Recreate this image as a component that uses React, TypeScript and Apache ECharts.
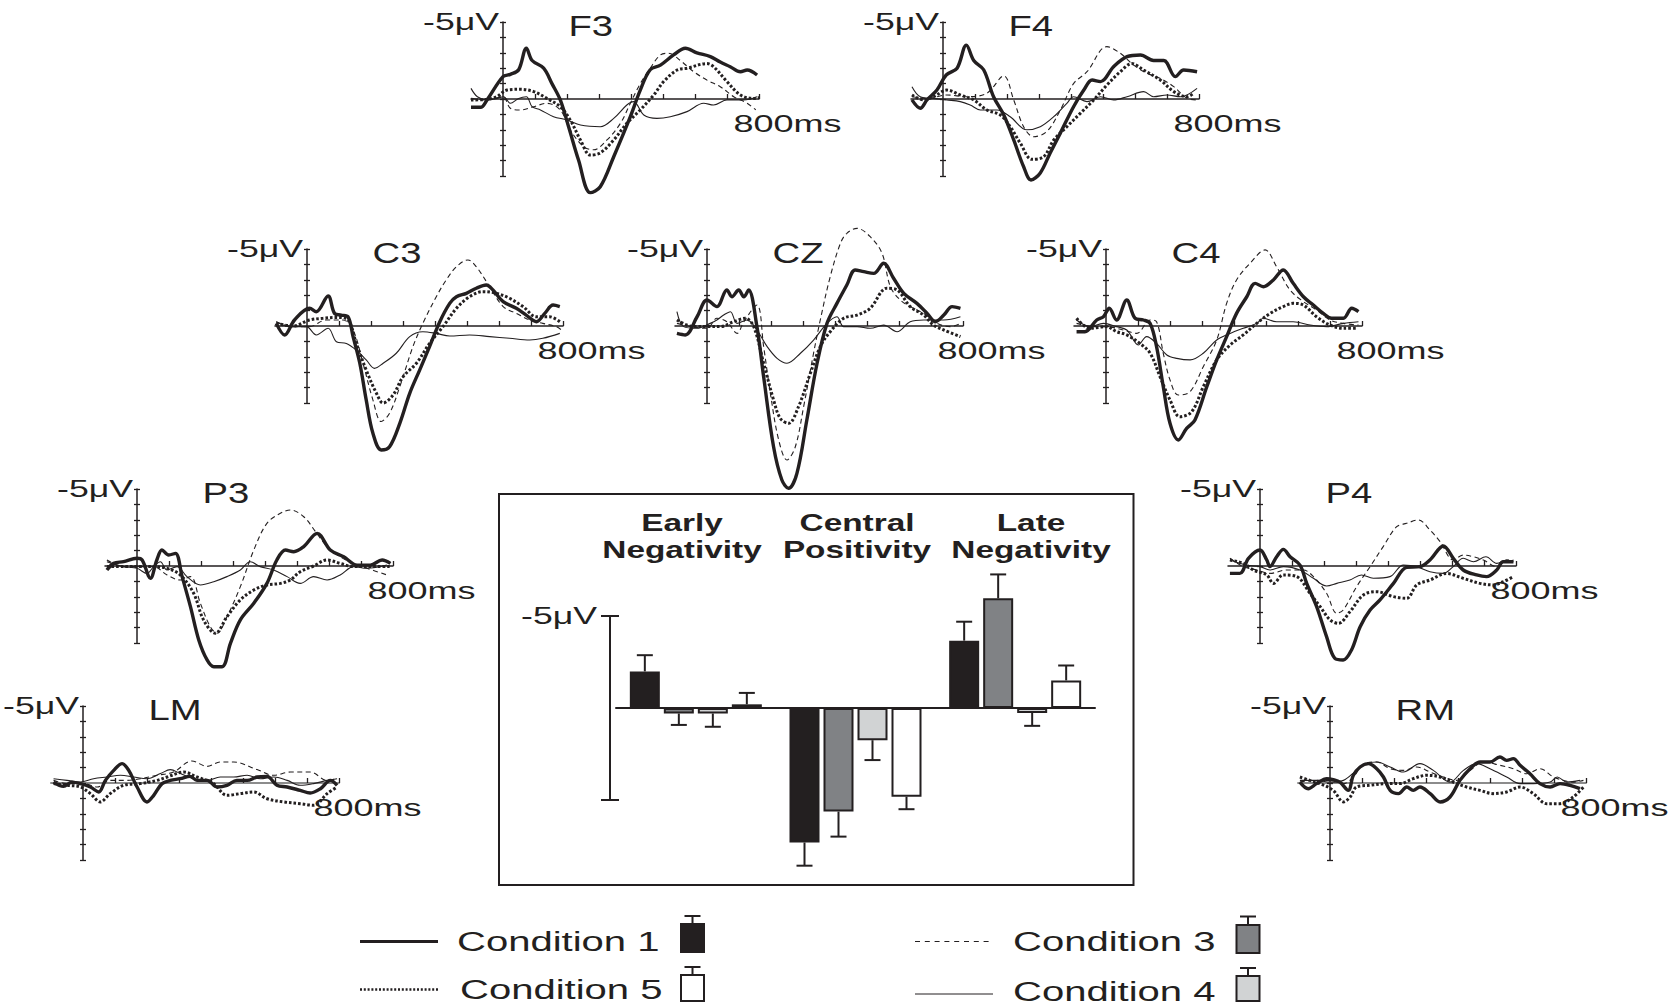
import React, { useEffect, useRef } from 'react';
import * as echarts from 'echarts';

const FONT = '"Liberation Sans", Arial, Helvetica, sans-serif';
const INK = '#231f20';

// ---- ERP waveforms: [time ms, amplitude µV] (negative plotted up) ----
const f3Cond1 = [[-100,0.54],[-70,0.54],[-50,0.06],[0,-1.45],[23,-1.6],[49,-1.9],[73,-3.3],[91,-2.5],[127,-2.0],[153,-1.0],[179,0.06],[205,1.8],[236,3.96],[273,6.08],[304,5.7],[346,3.75],[398,1.15],[429,-0.58],[460,-1.9],[492,-2.2],[533,-2.86],[570,-3.3],[606,-3.0],[648,-2.75],[679,-2.4],[710,-2.1],[742,-1.77],[763,-1.88],[794,-1.56]];
const f3Cond3 = [[-100,-0.04],[-50,0.06],[0,-0.15],[23,0.6],[54,0.71],[96,0.5],[137,0.28],[179,0.71],[210,2.0],[252,3.1],[283,3.3],[325,2.66],[367,1.58],[398,0.28],[429,-1.0],[460,-2.0],[492,-2.86],[518,-2.97],[554,-2.5],[596,-1.77],[637,-1.23],[679,-0.8],[721,-0.15],[763,0.28],[790,0.71]];
const f3Cond4 = [[-100,-0.69],[-80,-0.15],[-50,0.06],[-19,-0.04],[2,-0.15],[23,0.28],[49,-0.04],[73,-0.15],[91,0.5],[117,0.71],[158,1.15],[200,1.36],[242,1.69],[304,1.8],[346,1.26],[387,0.39],[408,0.17],[440,1.04],[481,1.26],[523,1.15],[575,0.82],[627,0.28],[658,0.39],[700,0.06],[752,0.06],[794,-0.15]];
const f3Cond5 = [[-100,0.06],[-50,0.02],[-19,-0.15],[12,-0.58],[54,-0.63],[96,-0.48],[137,-0.04],[179,0.5],[210,1.36],[242,2.66],[273,3.64],[304,3.5],[346,2.66],[387,1.58],[429,0.71],[471,-0.26],[502,-1.13],[544,-1.88],[575,-2.0],[637,-2.3],[658,-2.1],[700,-1.13],[742,-0.26],[783,-0.04],[800,-0.1]];

const f4Cond1 = [[-97,0.06],[-71,0.6],[-50,0.06],[-19,-0.58],[10,-1.56],[44,-2.0],[73,-3.5],[96,-2.5],[127,-1.9],[158,-0.15],[190,1.04],[221,2.66],[252,4.4],[275,5.26],[304,4.8],[335,3.5],[367,2.2],[408,0.5],[440,-0.58],[466,-1.23],[492,-1.13],[533,-2.1],[575,-2.75],[617,-2.86],[658,-2.5],[690,-2.5],[726,-1.45],[752,-1.88],[794,-1.77]];
const f4Cond3 = [[-97,-0.15],[-50,-0.04],[12,-0.26],[75,-0.15],[137,-0.37],[190,-1.5],[221,0.06],[252,1.8],[283,2.45],[325,2.1],[367,0.71],[408,-1.0],[450,-1.77],[512,-3.4],[554,-2.97],[596,-2.2],[637,-1.67],[679,-1.34],[721,-0.8],[763,-0.04],[794,0.06]];
const f4Cond4 = [[-97,-0.8],[-71,-0.15],[-29,-0.04],[12,0.06],[54,0.17],[85,0.39],[117,0.71],[169,0.71],[210,1.15],[262,2.0],[304,1.8],[346,1.15],[387,0.28],[408,-0.15],[450,0.17],[492,-0.15],[533,0.06],[575,-0.15],[627,-0.48],[658,-0.15],[700,-0.26],[742,-0.15],[794,-0.69]];
const f4Cond5 = [[-97,-0.26],[-60,0.06],[-29,-0.15],[12,-0.58],[54,-0.26],[96,0.06],[137,0.71],[179,1.04],[210,1.8],[242,2.88],[278,3.92],[315,3.74],[346,2.66],[387,1.8],[429,0.93],[471,0.06],[512,-0.9],[554,-1.77],[590,-2.3],[627,-1.88],[679,-1.23],[721,-0.48],[763,-0.15],[783,-0.37]];

const c3Cond1 = [[-96,-0.17],[-70,0.58],[-39,-0.39],[8,-1.15],[29,-0.93],[66,-1.95],[86,-0.82],[107,-0.71],[128,-0.6],[144,0.69],[165,2.42],[185,4.8],[206,6.97],[232,8.05],[258,7.84],[290,6.32],[321,4.37],[352,2.86],[383,1.34],[415,-0.28],[446,-1.47],[467,-1.9],[498,-2.12],[529,-2.45],[560,-2.66],[581,-2.34],[613,-1.58],[654,-1.15],[685,-0.71],[717,-0.28],[743,-0.82],[769,-1.36],[790,-1.26]];
const c3Cond3 = [[-96,-0.28],[-44,0.04],[8,0.04],[60,-0.39],[112,-0.39],[144,0.26],[175,2.42],[206,4.8],[232,6.2],[258,5.67],[290,3.94],[331,1.34],[362,-0.17],[404,-1.9],[435,-2.99],[467,-3.85],[503,-4.29],[529,-3.85],[571,-2.55],[613,-1.26],[654,-0.82],[696,-0.39],[737,-0.17],[779,0.04],[795,0.26]];
const c3Cond4 = [[-96,-0.28],[-54,0.04],[-2,0.04],[29,0.58],[66,0.15],[92,1.02],[123,1.13],[154,1.56],[185,2.2],[211,2.75],[238,2.42],[279,1.77],[321,0.69],[362,0.37],[404,0.48],[446,0.65],[508,0.58],[571,0.69],[633,0.8],[696,0.91],[737,0.8],[790,0.48]];
const c3Cond5 = [[-96,-0.17],[-44,0],[8,-0.39],[50,-0.5],[92,-0.56],[128,-0.39],[154,1.13],[185,2.86],[217,4.37],[238,5.0],[269,4.48],[300,3.3],[342,2.42],[383,1.13],[425,0.04],[467,-1.15],[508,-1.9],[550,-2.23],[592,-2.12],[633,-1.8],[675,-1.26],[717,-0.6],[758,-0.6],[790,-0.28]];

const czCond1 = [[-94,0.48],[-68,0.58],[-31,-0.6],[0,-1.69],[31,-1.26],[62,-2.34],[78,-1.9],[99,-2.34],[115,-1.9],[130,-2.34],[156,0.04],[177,3.3],[208,7.84],[234,10.0],[255,10.54],[281,9.57],[312,6.1],[344,2.42],[375,-0.17],[406,-1.47],[437,-2.66],[463,-3.64],[490,-3.53],[521,-3.42],[552,-4.07],[583,-3.1],[615,-2.12],[656,-1.47],[688,-0.82],[714,-0.28],[740,-0.71],[766,-1.26],[792,-1.15]];
const czCond3 = [[-94,-0.17],[-52,0.04],[0,0.15],[31,-0.5],[62,-0.28],[94,0.48],[115,-0.28],[156,-1.36],[177,1.34],[198,4.37],[224,7.4],[250,8.7],[276,7.84],[302,5.24],[333,1.77],[354,-0.39],[385,-3.2],[417,-5.37],[437,-6.02],[469,-6.34],[510,-5.8],[547,-4.72],[573,-2.55],[604,-1.69],[635,-1.26],[677,-0.82],[719,-0.17],[760,0.04],[792,-0.17]];
const czCond4 = [[-94,-0.93],[-73,0.04],[-31,0.15],[10,-0.17],[31,-0.39],[52,-0.71],[73,-0.93],[94,-0.17],[125,-0.39],[156,0.26],[188,1.34],[219,2.1],[250,2.42],[292,1.77],[333,0.91],[375,-0.17],[406,-0.6],[427,0.04],[469,0.04],[510,0.15],[552,-0.06],[594,0.37],[635,-0.28],[677,-0.39],[740,-0.39],[792,-0.6]];
const czCond5 = [[-94,-0.39],[-42,0.04],[0,0.04],[42,0.04],[83,-0.28],[120,-0.5],[146,0.04],[177,2.42],[208,4.8],[229,6.0],[255,6.32],[286,5.24],[323,3.07],[354,1.34],[385,0.37],[427,-0.5],[469,-0.71],[510,-1.15],[562,-2.45],[594,-2.34],[635,-1.26],[677,-0.71],[708,-0.06],[740,0.26],[792,0.69]];

const c4Cond1 = [[-92,0.37],[-66,0.37],[-29,-0.39],[-8,-0.6],[10,-1.15],[33,-0.39],[65,-1.69],[91,-0.5],[117,-0.39],[138,-0.17],[158,1.34],[179,3.94],[200,6.32],[226,7.4],[252,6.65],[278,6.1],[315,3.94],[346,2.2],[377,0.69],[408,-0.82],[440,-1.9],[466,-2.77],[492,-2.55],[523,-2.99],[554,-3.64],[585,-2.77],[617,-1.9],[648,-1.36],[679,-0.82],[705,-0.5],[742,-0.5],[768,-1.15],[789,-0.93]];
const c4Cond3 = [[-92,-0.17],[-40,0.04],[2,0.04],[54,0.26],[96,0.48],[138,-0.39],[158,-0.28],[179,1.77],[200,3.5],[226,4.48],[263,4.26],[304,2.64],[346,0.91],[377,-1.47],[408,-2.99],[450,-4.07],[497,-4.94],[533,-3.85],[575,-2.34],[617,-1.58],[658,-1.04],[700,-0.39],[742,-0.17],[789,-0.06]];
const c4Cond4 = [[-92,-0.39],[-50,0.04],[-8,-0.17],[33,0.04],[65,0.26],[101,1.23],[127,0.69],[158,1.13],[190,1.88],[221,2.1],[263,2.2],[304,1.77],[346,0.91],[388,0.48],[429,0.15],[471,-0.17],[492,-0.5],[533,-0.28],[585,-0.28],[638,-0.06],[690,0.04],[742,-0.17],[789,-0.28]];
const c4Cond5 = [[-92,-0.5],[-50,0.15],[2,0.04],[33,0.37],[65,0.58],[106,1.13],[138,1.77],[169,3.3],[200,4.8],[231,5.89],[268,5.56],[304,3.94],[346,2.2],[388,1.23],[429,0.58],[471,-0.17],[513,-0.82],[554,-1.26],[585,-1.47],[617,-1.36],[658,-0.6],[700,-0.06],[742,0.15],[783,0.15]];

const p3Cond1 = [[-94,0.26],[-73,-0.17],[-42,-0.28],[0,-0.5],[16,-0.39],[42,0.8],[62,-0.39],[78,-1.04],[99,-0.71],[120,-0.82],[141,0.69],[167,2.64],[193,4.8],[219,6.1],[240,6.54],[266,6.54],[292,5.02],[323,3.5],[365,2.42],[406,1.13],[437,-0.39],[464,-1.04],[490,-0.93],[521,-1.26],[563,-2.12],[604,-1.04],[646,-0.6],[688,-0.06],[729,-0.06],[766,-0.39],[792,-0.17]];
const p3Cond3 = [[-94,-0.39],[-42,0.04],[10,0.04],[52,0.04],[94,0.58],[135,0.91],[167,0.69],[198,2.42],[229,3.94],[250,4.37],[281,3.3],[323,1.34],[365,-1.04],[406,-2.77],[448,-3.42],[479,-3.64],[521,-3.2],[558,-2.23],[594,-1.26],[635,-0.6],[677,-0.17],[719,0.15],[781,0.58]];
const p3Cond4 = [[-94,-0.28],[-42,0.04],[0,0.15],[31,0.48],[52,0.04],[73,-0.28],[94,0.26],[125,0.04],[156,0.69],[198,1.23],[240,1.02],[281,0.69],[323,0.26],[354,-0.28],[385,0.04],[427,0.26],[469,0.69],[510,1.13],[552,0.69],[594,0.91],[635,0.58],[677,0.04],[719,0.15],[781,-0.06]];
const p3Cond5 = [[-94,0.04],[-42,0.04],[10,0.04],[52,0.04],[94,0.15],[135,0.58],[177,1.77],[208,3.5],[245,4.37],[281,3.3],[323,2.2],[365,1.56],[406,1.23],[448,1.13],[479,0.91],[510,0.37],[552,0],[594,-0.39],[635,-0.17],[677,0.04],[719,0.04],[792,0.04]];

const p4Cond1 = [[-94,0.48],[-63,0.48],[-36,-0.5],[0,-1.04],[21,-0.39],[31,0.04],[52,-0.6],[73,-1.08],[94,-0.6],[125,-0.06],[146,1.13],[177,2.64],[208,4.59],[234,6.0],[260,6.1],[286,5.45],[313,3.94],[344,2.86],[375,2.2],[417,1.13],[458,0.09],[500,0.04],[531,-0.39],[573,-1.3],[604,-0.5],[635,0.26],[677,0.58],[708,0.69],[740,0.26],[760,-0.28],[792,-0.28]];
const p4Cond3 = [[-94,-0.5],[-52,0.04],[-10,0.26],[31,0.48],[83,0.26],[135,0.26],[167,0.69],[208,1.77],[240,3.07],[260,2.86],[302,1.34],[344,0.04],[385,-1.26],[427,-2.55],[458,-2.77],[495,-2.99],[531,-2.34],[563,-1.58],[604,-0.39],[635,-0.71],[667,-0.6],[698,-0.39],[740,0.04],[771,-0.39],[792,-0.39]];
const p4Cond4 = [[-94,-0.39],[-42,-0.06],[0,0.04],[31,0.26],[73,0.04],[125,0.26],[167,0.8],[208,1.3],[240,1.13],[281,0.91],[317,0.58],[354,0.8],[406,0.69],[448,-0.06],[490,0.04],[531,0.37],[573,0.48],[604,0.04],[635,-0.5],[667,-0.28],[706,-0.6],[740,-0.17],[771,-0.39],[792,-0.28]];
const p4Cond5 = [[-94,-0.39],[-52,-0.17],[-21,0.26],[21,0.58],[42,1.13],[73,0.58],[115,0.69],[156,1.77],[188,2.64],[219,3.5],[245,3.72],[281,2.97],[323,1.88],[365,1.67],[417,1.99],[458,2.1],[490,1.23],[531,0.91],[583,0.48],[635,0.8],[688,1.13],[729,1.23],[760,1.02],[792,0.69]];

const lmCond1 = [[-92,-0.06],[-61,0.22],[-35,-0.06],[-8,0.04],[23,0.26],[49,0.58],[70,-0.17],[96,-0.82],[122,-1.26],[143,-0.82],[169,0.26],[200,1.23],[221,0.8],[247,0.04],[273,-0.17],[304,-0.28],[335,-0.43],[356,-0.17],[388,-0.17],[419,0.26],[450,0.15],[481,-0.17],[513,-0.17],[544,-0.39],[575,-0.43],[606,0.15],[638,0.26],[679,0.48],[710,0.65],[742,0.37],[773,-0.17],[794,0.15]];
const lmCond3 = [[-92,-0.17],[-50,0.04],[2,0.04],[44,0.26],[85,-0.17],[138,-0.17],[179,-0.28],[231,-0.5],[283,-0.71],[340,-1.43],[388,-1.08],[429,-1.36],[471,-1.36],[544,-0.87],[596,-0.5],[648,-0.71],[710,-0.71],[763,-0.17],[794,-0.28]];
const lmCond4 = [[-92,-0.28],[-50,-0.17],[-8,-0.06],[33,-0.28],[75,-0.39],[117,-0.5],[158,-0.39],[200,-0.28],[242,-0.61],[273,-0.87],[304,-0.61],[346,-0.28],[388,-0.17],[429,-0.39],[471,-0.39],[513,-0.5],[554,-0.28],[596,-0.39],[638,-0.17],[679,0.15],[721,0.04],[763,-0.17],[794,-0.28]];
const lmCond5 = [[-92,0.04],[-50,0.15],[-8,0.26],[23,0.69],[54,1.23],[85,0.69],[127,0.15],[179,0.04],[231,-0.17],[263,-0.39],[315,-0.71],[356,-0.39],[408,0.04],[450,0.8],[492,0.69],[533,0.58],[575,1.02],[627,1.23],[679,1.34],[721,1.45],[763,0.69],[794,0.26]];

const rmCond1 = [[-94,-0.06],[-68,0.37],[-42,0.04],[-10,-0.28],[10,-0.22],[31,-0.06],[57,0.48],[73,-0.5],[94,-1.04],[120,-1.26],[146,-0.93],[167,-0.39],[188,0.48],[214,0.69],[240,0.26],[260,0.48],[281,0.26],[313,0.69],[344,1.23],[375,0.91],[406,-0.17],[438,-0.93],[469,-1.36],[500,-1.36],[531,-1.69],[552,-1.47],[573,-1.58],[594,-1.15],[625,-0.6],[656,0.04],[688,0.26],[719,0.04],[750,0.15],[781,0.37]];
const rmCond3 = [[-94,-0.06],[-42,-0.17],[0,-0.17],[42,0.04],[73,-0.39],[104,-1.21],[146,-1.36],[188,-0.93],[229,-0.82],[271,-1.04],[313,-0.71],[354,-0.39],[396,-0.17],[438,-0.82],[479,-1.36],[531,-1.15],[573,-0.93],[615,-0.6],[656,-0.93],[698,-0.39],[729,-0.17],[760,-0.06],[792,-0.17]];
const rmCond4 = [[-94,-0.17],[-42,-0.17],[0,-0.06],[42,-0.17],[83,-0.82],[115,-1.26],[146,-1.36],[188,-1.04],[229,-0.71],[281,-1.26],[323,-0.82],[375,-0.06],[417,-0.82],[458,-1.26],[500,-0.93],[552,-0.39],[594,0.04],[635,0.04],[688,-0.06],[710,-0.39],[740,-0.06],[781,-0.17]];
const rmCond5 = [[-94,-0.39],[-63,-0.17],[-31,0.04],[10,0.48],[42,1.23],[63,0.91],[83,0.26],[125,0.15],[177,0.04],[219,0.04],[260,-0.28],[302,-0.5],[344,-0.39],[385,-0.06],[427,0.26],[469,0.48],[510,0.69],[552,0.58],[594,0.26],[635,0.69],[677,1.34],[719,1.34],[760,0.91],[792,0.26]];

// ---- Bar chart: mean amplitude (µV) and error per component ----
const barGroups = ['Early Negativity', 'Central Positivity', 'Late Negativity'];
const barCond1 = [-1.99, 7.31, -3.66];
const errCond1 = [0.88, 1.26, 1.03];
const barCond3 = [0.3, 5.63, -5.96];
const errCond3 = [0.62, 1.36, 1.3];
const barCond4 = [0.3, 1.75, 0.27];
const errCond4 = [0.72, 1.08, 0.7];
const barCond5 = [-0.2, 4.82, -1.5];
const errCond5 = [0.62, 0.68, 0.81];

const conditionNames = ['Condition 1', 'Condition 3', 'Condition 4', 'Condition 5'];
const electrodes = ['F3', 'F4', 'C3', 'CZ', 'C4', 'P3', 'P4', 'LM', 'RM'];
const waveData = [
  [f3Cond1, f3Cond3, f3Cond4, f3Cond5],
  [f4Cond1, f4Cond3, f4Cond4, f4Cond5],
  [c3Cond1, c3Cond3, c3Cond4, c3Cond5],
  [czCond1, czCond3, czCond4, czCond5],
  [c4Cond1, c4Cond3, c4Cond4, c4Cond5],
  [p3Cond1, p3Cond3, p3Cond4, p3Cond5],
  [p4Cond1, p4Cond3, p4Cond4, p4Cond5],
  [lmCond1, lmCond3, lmCond4, lmCond5],
  [rmCond1, rmCond3, rmCond4, rmCond5],
];
const barValues = [barCond1, barCond3, barCond4, barCond5];
const barErrors = [errCond1, errCond3, errCond4, errCond5];
const yTopLabel = '-5\u03bcV';
const xEndLabel = '800ms';
const timeTicks = [100, 200, 300, 400, 500, 600, 700, 800];

// ---- layout (pixels) ----
const panelOrigin: Record<string, [number, number]> = {
  F3: [503, 99], F4: [943, 99],
  C3: [307, 326], CZ: [707, 326], C4: [1106, 326],
  P3: [137, 566], P4: [1260, 566],
  LM: [83, 783], RM: [1330, 783],
};
const PX_MS = 0.32;
const PX_UV = 15.4;
const T_MIN = -100;
const T_MAX = 800;

const lineStyles = [
  { color: INK, width: 3.4, type: 'solid' },
  { color: INK, width: 1.1, type: [5, 3.5] },
  { color: INK, width: 1.1, type: 'solid' },
  { color: INK, width: 3, type: [2.6, 2] },
];
const barFill = [INK, '#808285', '#d1d3d4', '#ffffff'];
const drawOrder = [2, 1, 3, 0];

const BAR_GRID = { left: 616, top: 616, width: 479, height: 184 };
const BAR_W = 30;
const BAR_STEP = 34;

function stretchedText(text: string, x: number, y: number, size: number, sx: number, align: string, weight = 'normal') {
  return {
    type: 'text', x, y, scaleX: sx, silent: true,
    style: {
      text, fill: INK, fontSize: size, fontFamily: FONT, fontWeight: weight,
      align, textAlign: align, verticalAlign: 'middle', textVerticalAlign: 'middle',
    },
  };
}

function buildOption() {
  const grid: any[] = [];
  const xAxis: any[] = [];
  const yAxis: any[] = [];
  const series: any[] = [];
  const graphic: any[] = [];

  electrodes.forEach((name, i) => {
    const [x0, y0] = panelOrigin[name];
    const left = x0 + T_MIN * PX_MS;
    const mastoid = name === 'LM' || name === 'RM';
    grid.push({ left, top: y0 - 5 * PX_UV, width: (T_MAX - T_MIN) * PX_MS, height: 10 * PX_UV });
    xAxis.push({
      gridIndex: i, type: 'value', min: T_MIN, max: T_MAX, interval: 100,
      axisLine: { show: true, onZero: true, lineStyle: { color: mastoid ? '#8c8c8c' : INK, width: mastoid ? 2 : 1.5 } },
      axisTick: { show: true, inside: true, length: 5, customValues: timeTicks, lineStyle: { color: INK, width: 1.3 } },
      axisLabel: { show: false }, splitLine: { show: false },
    });
    const yBase = {
      gridIndex: i, type: 'value', inverse: true, min: -5, max: 5, interval: 1,
      position: 'left', offset: T_MIN * PX_MS,
      axisLabel: { show: false }, splitLine: { show: false },
    };
    yAxis.push({ ...yBase, axisLine: { show: true, onZero: false, lineStyle: { color: INK, width: 1.5 } },
      axisTick: { show: true, inside: false, length: 3, lineStyle: { color: INK, width: 1.3 } } });
    yAxis.push({ ...yBase, axisLine: { show: false, onZero: false },
      axisTick: { show: true, inside: true, length: 3, lineStyle: { color: INK, width: 1.3 } } });

    drawOrder.forEach((c) => {
      series.push({
        type: 'line', name: conditionNames[c], xAxisIndex: i, yAxisIndex: 2 * i,
        data: waveData[i][c], showSymbol: false, symbol: 'none', smooth: 0.35, clip: false,
        silent: true, lineStyle: { ...lineStyles[c], cap: 'butt' }, z: 3 + (c === 0 ? 2 : c === 3 ? 1 : 0),
      });
    });

    graphic.push(stretchedText(yTopLabel, x0 - 4, y0 - 77, 23, 1.55, 'right'));
    graphic.push(stretchedText(name, x0 + 65.5, y0 - 73, 29, 1.32, 'left'));
    graphic.push(stretchedText(xEndLabel, x0 + 230.5, y0 + 24.5, 24, 1.5, 'left'));
  });

  // bar chart
  const bi = electrodes.length;
  grid.push({ ...BAR_GRID });
  xAxis.push({
    gridIndex: bi, type: 'category', data: barGroups,
    axisLine: { show: true, onZero: true, lineStyle: { color: INK, width: 2 } },
    axisTick: { show: false }, axisLabel: { show: false }, splitLine: { show: false },
  });
  const byBase = {
    gridIndex: bi, type: 'value', inverse: true, min: -5, max: 5, interval: 5,
    position: 'left', offset: 6, axisLabel: { show: false }, splitLine: { show: false },
  };
  yAxis.push({ ...byBase, axisLine: { show: true, onZero: false, lineStyle: { color: INK, width: 2 } },
    axisTick: { show: true, inside: false, length: 9, customValues: [-5, 5], lineStyle: { color: INK, width: 2 } } });
  yAxis.push({ ...byBase, axisLine: { show: false, onZero: false },
    axisTick: { show: true, inside: true, length: 9, customValues: [-5, 5], lineStyle: { color: INK, width: 2 } } });

  barValues.forEach((vals, k) => {
    series.push({
      type: 'bar', name: conditionNames[k], xAxisIndex: bi, yAxisIndex: 2 * bi,
      data: vals, barWidth: BAR_W, barGap: `${((BAR_STEP - BAR_W) / BAR_W) * 100}%`, clip: false, silent: true,
      itemStyle: { color: barFill[k], borderColor: INK, borderWidth: 2 }, z: 3,
    });
  });
  barValues.forEach((vals, k) => {
    const shift = (k - 1.5) * BAR_STEP;
    series.push({
      type: 'custom', name: conditionNames[k] + ' error', xAxisIndex: bi, yAxisIndex: 2 * bi,
      data: vals.map((v, g) => [g, v, barErrors[k][g]]), encode: { x: 0, y: 1 }, silent: true, z: 2,
      renderItem: (params: any, api: any) => {
        const g = api.value(0);
        const v = api.value(1);
        const e = api.value(2);
        const s = v < 0 ? -1 : 1;
        const a = api.coord([g, v]);
        const b = api.coord([g, v + s * e]);
        const x = a[0] + shift;
        const st = { stroke: INK, lineWidth: 2 };
        return {
          type: 'group', children: [
            { type: 'line', shape: { x1: x, y1: a[1], x2: x, y2: b[1] }, style: st },
            { type: 'line', shape: { x1: x - 8, y1: b[1], x2: x + 8, y2: b[1] }, style: st },
          ],
        };
      },
    });
  });

  // bar chart frame and texts
  graphic.push({ type: 'rect', shape: { x: 499, y: 494, width: 634.5, height: 391 }, style: { fill: 'none', stroke: INK, lineWidth: 2 }, silent: true });
  graphic.push(stretchedText(yTopLabel, 597, 616, 23, 1.55, 'right'));
  const titleCenters = [682, 857, 1031];
  barGroups.forEach((g, i) => {
    const [w1, w2] = g.split(' ');
    graphic.push(stretchedText(w1, titleCenters[i], 522.5, 24, 1.39, 'center', 'bold'));
    graphic.push(stretchedText(w2, titleCenters[i], 550, 24, 1.39, 'center', 'bold'));
  });

  // legend
  const legendPos = [
    { c: 0, lx: 360, ly: 941.5, tx: 457, ty: 941, ix: 692.5, top: 924, bottom: 952, cap: 916 },
    { c: 3, lx: 360, ly: 989.5, tx: 460, ty: 989, ix: 692.5, top: 975, bottom: 1001, cap: 967 },
    { c: 1, lx: 915, ly: 941.5, tx: 1013, ty: 941.5, ix: 1248, top: 925, bottom: 953, cap: 916.5 },
    { c: 2, lx: 915, ly: 994, tx: 1013, ty: 991, ix: 1248, top: 976, bottom: 1001, cap: 968 },
  ];
  legendPos.forEach((p) => {
    graphic.push({
      type: 'line', silent: true, shape: { x1: p.lx, y1: p.ly, x2: p.lx + 78, y2: p.ly },
      style: { stroke: INK, lineWidth: p.c === 0 ? 3 : p.c === 3 ? 2.5 : 1, lineDash: p.c === 3 ? [2, 1.8] : p.c === 1 ? [5, 4.8] : null },
    });
    graphic.push(stretchedText(conditionNames[p.c], p.tx, p.ty, 28, 1.43, 'left'));
    const w = 23;
    graphic.push({ type: 'line', silent: true, shape: { x1: p.ix, y1: p.top, x2: p.ix, y2: p.cap }, style: { stroke: INK, lineWidth: 2 } });
    graphic.push({ type: 'line', silent: true, shape: { x1: p.ix - 8, y1: p.cap, x2: p.ix + 8, y2: p.cap }, style: { stroke: INK, lineWidth: 2 } });
    graphic.push({ type: 'rect', silent: true, shape: { x: p.ix - w / 2, y: p.top, width: w, height: p.bottom - p.top }, style: { fill: barFill[p.c], stroke: INK, lineWidth: 2 } });
  });

  return {
    animation: false,
    backgroundColor: '#ffffff',
    grid, xAxis, yAxis, series, graphic,
  };
}

export default function App() {
  const ref = useRef<HTMLDivElement>(null);
  useEffect(() => {
    if (!ref.current) return;
    const chart = echarts.init(ref.current, null, { renderer: 'svg', width: 1672, height: 1005 });
    chart.setOption(buildOption() as any);
    return () => chart.dispose();
  }, []);
  return (
    <div
      ref={ref}
      style={{ position: 'fixed', left: 0, top: 0, width: 1672, height: 1005, background: '#ffffff' }}
    />
  );
}
